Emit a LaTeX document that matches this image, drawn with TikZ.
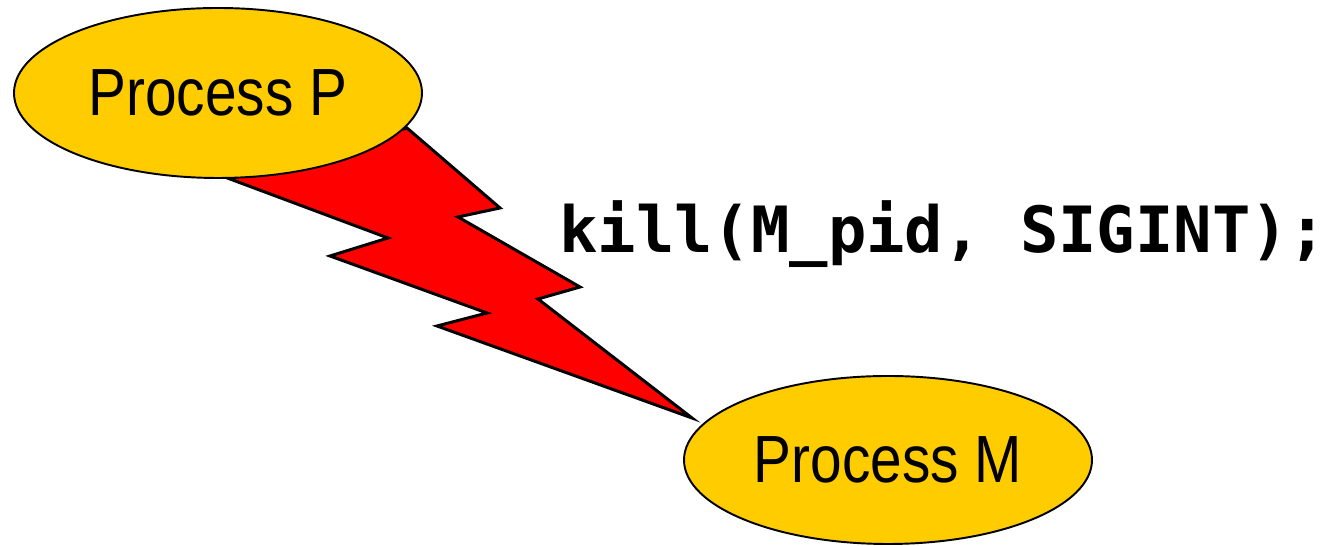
\documentclass[tikz,border=0pt]{standalone}
\usepackage{fontspec}
\setmainfont{Liberation Sans}
\newfontfamily\codefont{DejaVu Sans Mono}
\usepackage{tikz}
\usetikzlibrary{shapes.geometric, backgrounds}
\definecolor{amarelo}{HTML}{FFCC00}
\definecolor{raio}{HTML}{FF0000}

\begin{document}
\begin{tikzpicture}[
    processo/.style={draw, ellipse, fill=amarelo, line width=1.1pt, inner sep=0pt,
                     minimum width=8.16cm, minimum height=3.4cm,
                     font=\fontsize{38}{40}\selectfont},
    codigo/.style={inner sep=0pt, anchor=base west,
                   font=\codefont\bfseries\fontsize{36.3}{38}\selectfont},
    sinal/.style={draw, fill=raio, line width=1.7pt, line join=miter}
]
    \useasboundingbox (0,0) rectangle (26.66,10.92);

    \node[processo] (procP) at (4.36,9.06) {\scalebox{0.85}[1]{Process P}};
    \node[processo, minimum height=3.36cm] (procM) at (17.76,1.72) {\scalebox{0.85}[1]{Process M}};
    \node[codigo] (chamada) at (11.18,5.86) {kill(M\_pid, SIGINT);};

    % raio de P para M, atras das elipses
    \begin{pgfonlayer}{background}
        \draw[sinal] (8.14,8.36) -- (10.00,6.76) -- (9.16,6.58) -- (11.60,5.18)
            -- (10.76,4.94) -- (13.84,2.56) -- (8.74,4.40) -- (9.74,4.66)
            -- (6.60,5.80) -- (7.76,6.16) -- (4.60,7.34) -- cycle;
    \end{pgfonlayer}
\end{tikzpicture}
\end{document}
